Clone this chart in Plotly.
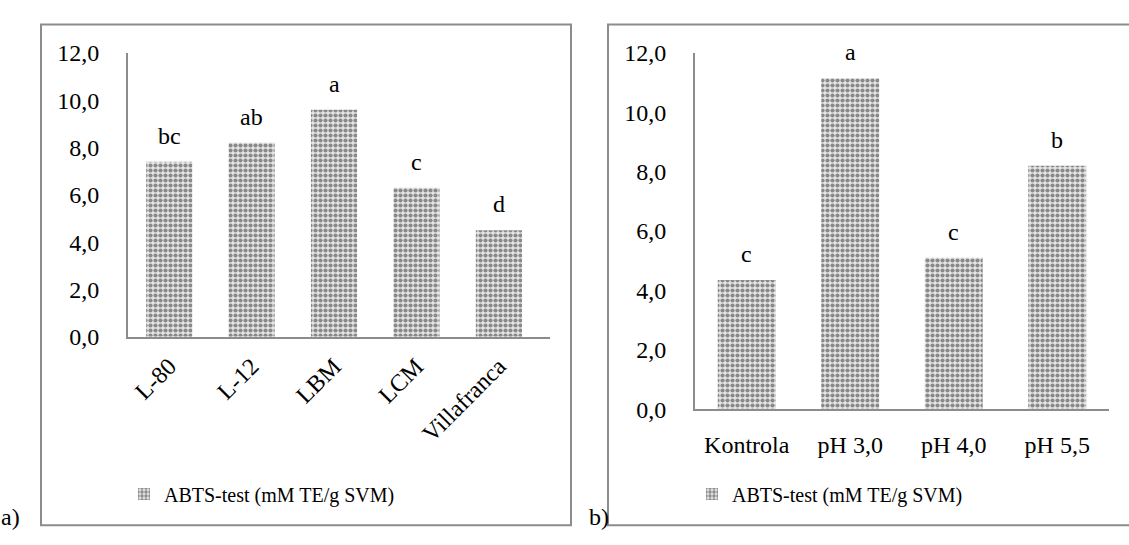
import plotly.graph_objects as go

# Panel a) – cultivars
cultivars = ["L-80", "L-12", "LBM", "LCM", "Villafranca"]
abts_cultivars = [7.4, 8.2, 9.6, 6.3, 4.5]
letters_cultivars = ["bc", "ab", "a", "c", "d"]

# Panel b) – treatments
treatments = ["Kontrola", "pH 3,0", "pH 4,0", "pH 5,5"]
abts_treatments = [4.35, 11.15, 5.1, 8.2]
letters_treatments = ["c", "a", "c", "b"]

y_tick_values = [0, 2, 4, 6, 8, 10, 12]
y_tick_labels = ["0,0", "2,0", "4,0", "6,0", "8,0", "10,0", "12,0"]

series_name = "ABTS-test (mM TE/g SVM)"

W, H = 1129, 545
FONT = "Liberation Serif, Times New Roman, serif"
AXIS_GREY = "#8c8c8c"
TEXT_SIZE = 24
LEGEND_SIZE = 20


def px_x(v):
    return v / W


def px_y(v):
    return 1 - v / H


pattern = dict(shape=".", fgcolor="#2e2e2e", bgcolor="#e4e4e4", size=5, solidity=0.55)

fig = go.Figure()

fig.add_trace(go.Bar(
    x=cultivars, y=abts_cultivars, name=series_name, width=0.56,
    marker=dict(color="#e4e4e4", pattern=pattern, line=dict(width=0)),
    xaxis="x", yaxis="y", legend="legend", showlegend=True,
))
fig.add_trace(go.Bar(
    x=treatments, y=abts_treatments, name=series_name, width=0.56,
    marker=dict(color="#e4e4e4", pattern=pattern, line=dict(width=0)),
    xaxis="x2", yaxis="y2", legend="legend2", showlegend=True,
))

letter_font = dict(family=FONT, size=TEXT_SIZE, color="black")

# significance letters above bars
for cat, val, lab in zip(cultivars, abts_cultivars, letters_cultivars):
    fig.add_annotation(x=cat, y=val, xref="x", yref="y", text=lab, showarrow=False,
                       yanchor="bottom", yshift=11, font=letter_font)
for cat, val, lab in zip(treatments, abts_treatments, letters_treatments):
    fig.add_annotation(x=cat, y=val, xref="x2", yref="y2", text=lab, showarrow=False,
                       yanchor="bottom", yshift=11, font=letter_font)

# panel captions
fig.add_annotation(x=px_x(-1), y=px_y(529), xref="paper", yref="paper", text="a)",
                   showarrow=False, xanchor="left", yanchor="middle", font=letter_font)
fig.add_annotation(x=px_x(587), y=px_y(529), xref="paper", yref="paper", text="b)",
                   showarrow=False, xanchor="left", yanchor="middle", font=letter_font)

# panel frames
fig.add_shape(type="rect", xref="paper", yref="paper",
              x0=px_x(41), x1=px_x(571), y0=px_y(538), y1=px_y(12),
              line=dict(color=AXIS_GREY, width=2), fillcolor="rgba(0,0,0,0)", layer="below")
fig.add_shape(type="rect", xref="paper", yref="paper",
              x0=px_x(608), x1=px_x(1180), y0=px_y(538), y1=px_y(12),
              line=dict(color=AXIS_GREY, width=2), fillcolor="rgba(0,0,0,0)", layer="below")

tick_font = dict(family=FONT, size=TEXT_SIZE, color="black")

common_x = dict(showgrid=False, zeroline=False, showline=True, linecolor=AXIS_GREY,
                linewidth=2, ticks="", tickfont=tick_font, fixedrange=True)
common_y = dict(showgrid=False, zeroline=False, showline=True, linecolor=AXIS_GREY,
                linewidth=2, ticks="", tickfont=tick_font, range=[0, 12],
                tickmode="array", tickvals=y_tick_values, ticktext=y_tick_labels,
                fixedrange=True)

fig.update_layout(
    width=W, height=H,
    margin=dict(l=0, r=0, t=0, b=0),
    paper_bgcolor="white", plot_bgcolor="rgba(0,0,0,0)",
    font=dict(family=FONT, size=LEGEND_SIZE, color="black"),
    bargap=0.44,
    xaxis=dict(common_x, domain=[px_x(128), px_x(550)], range=[-0.5, 4.62],
               anchor="y", tickangle=-45, ticklabelstandoff=4),
    yaxis=dict(common_y, domain=[px_y(340), px_y(42)], anchor="x", ticklabelstandoff=22),
    xaxis2=dict(common_x, domain=[px_x(695), px_x(1109)], range=[-0.5, 3.5],
                anchor="y2", tickangle=0, ticklabelstandoff=13),
    yaxis2=dict(common_y, domain=[px_y(416), px_y(42)], anchor="x2", ticklabelstandoff=22),
    legend=dict(x=px_x(262), y=px_y(505), xanchor="center", yanchor="middle",
                orientation="h", bgcolor="rgba(0,0,0,0)",
                font=dict(family=FONT, size=LEGEND_SIZE, color="black")),
    legend2=dict(x=px_x(830), y=px_y(505), xanchor="center", yanchor="middle",
                 orientation="h", bgcolor="rgba(0,0,0,0)",
                 font=dict(family=FONT, size=LEGEND_SIZE, color="black")),
)

fig.write_html("out.html")
